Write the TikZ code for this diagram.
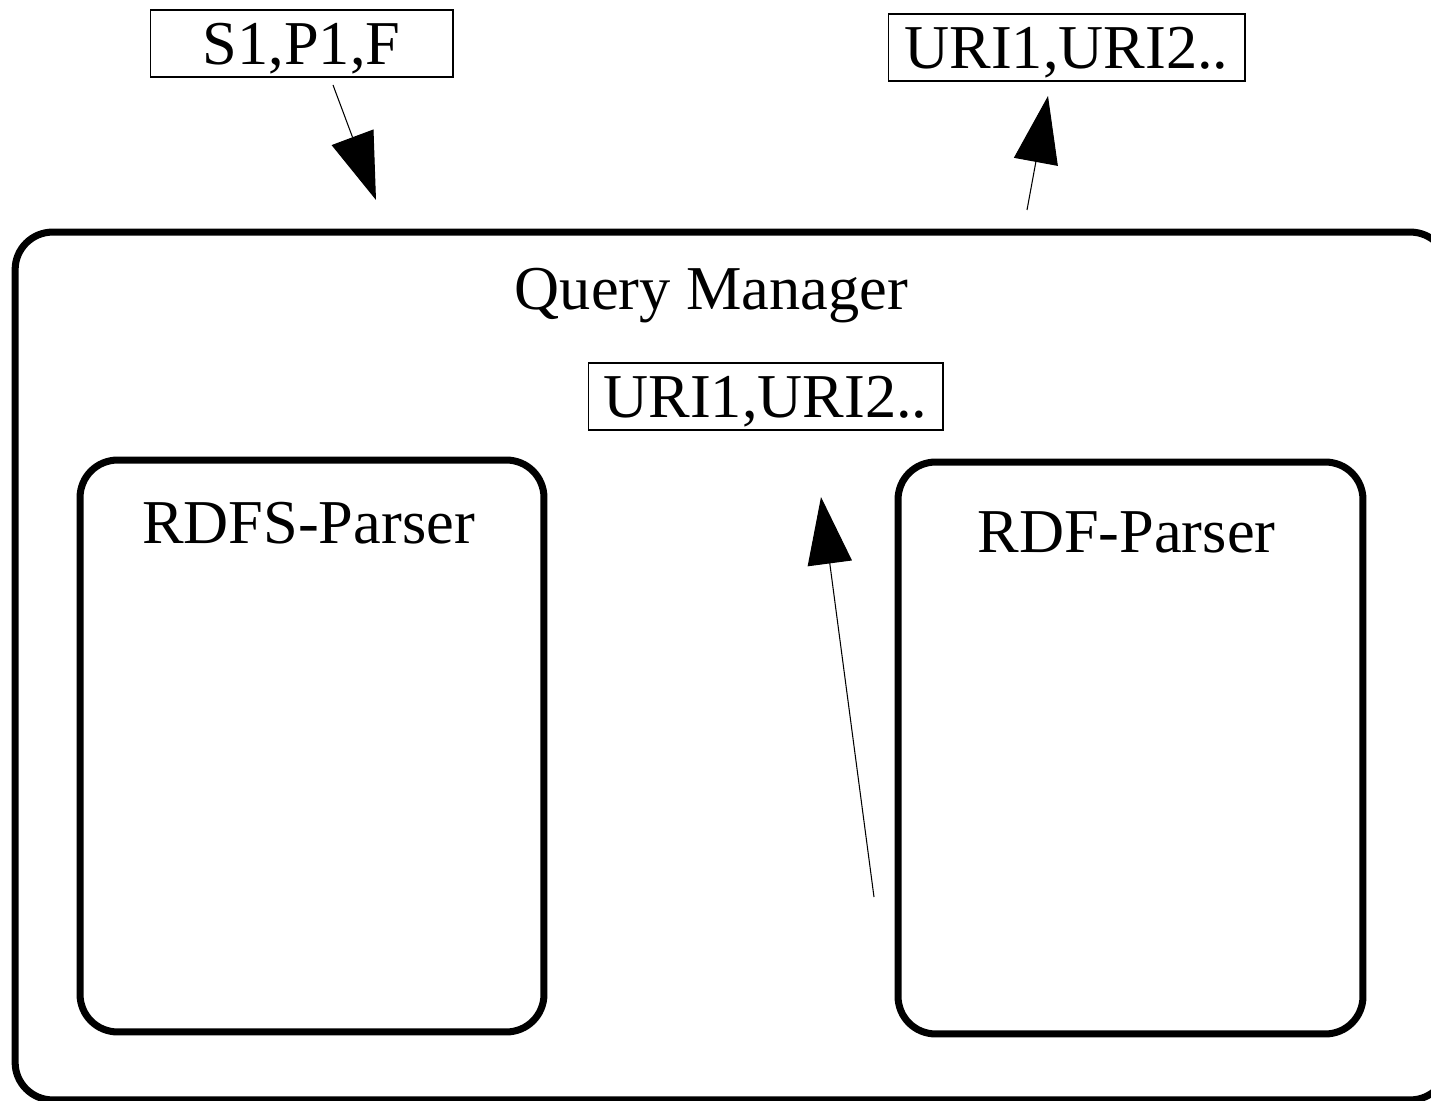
\documentclass[tikz,border=0pt]{standalone}
\usepackage{fontspec}
\setmainfont{Liberation Serif}
\usetikzlibrary{arrows.meta,positioning}

\begin{document}
\begin{tikzpicture}[x=0.02cm, y=-0.02cm, >={Triangle[length=1.34cm, width=0.89cm]},
    big/.style={font=\fontsize{35.5}{42}\selectfont, inner sep=0pt},
    tag/.style={big, draw, line width=0.6pt, minimum height=1.34cm,
      text height=29pt, text depth=4.6pt},
    part/.style={draw, line width=4pt, rounded corners=0.75cm, inner sep=0pt},
    flow/.style={->, line width=0.6pt}]

  %% Background
  \useasboundingbox (0,0) rectangle (1431,1101);

  % Query Manager und Parser
  \node[part, minimum width=28.66cm, minimum height=17.36cm] (qm) at (731.5,666) {};
  \node[part, minimum width=9.28cm, minimum height=11.44cm] (rdfs) at (312,746) {};
  \node[part, minimum width=9.3cm, minimum height=11.44cm] (rdf) at (1130.5,748) {};

  \node[big, anchor=base] (qmlabel) at (711.5,310) {Query Manager};
  \node[big, anchor=base] (rdfslabel) at (308.5,543) {RDFS-Parser};
  \node[big, anchor=base] (rdflabel) at (1126.5,553) {RDF-Parser};

  % Anfrage und Ergebnisse
  \node[tag, minimum width=6.06cm] (query) at (301.5,43.5) {S1,P1,F};
  \node[tag, minimum width=7.14cm] (result) at (1066.5,47.5) {URI1,URI2..};
  \node[tag, minimum width=7.1cm] (uris) at (765.5,396.5) {URI1,URI2..};

  % Pfeile
  \coordinate (qstart) at (333,85);
  \coordinate (qend) at (376,200);
  \coordinate (rstart) at (1027,210);
  \coordinate (rend) at (1048,96);
  \coordinate (ustart) at (874,897);
  \coordinate (uend) at (821,497);

  \draw[flow] (qstart) -- (qend);
  \draw[flow] (rstart) -- (rend);
  \draw[flow] (ustart) -- (uend);

\end{tikzpicture}
\end{document}
